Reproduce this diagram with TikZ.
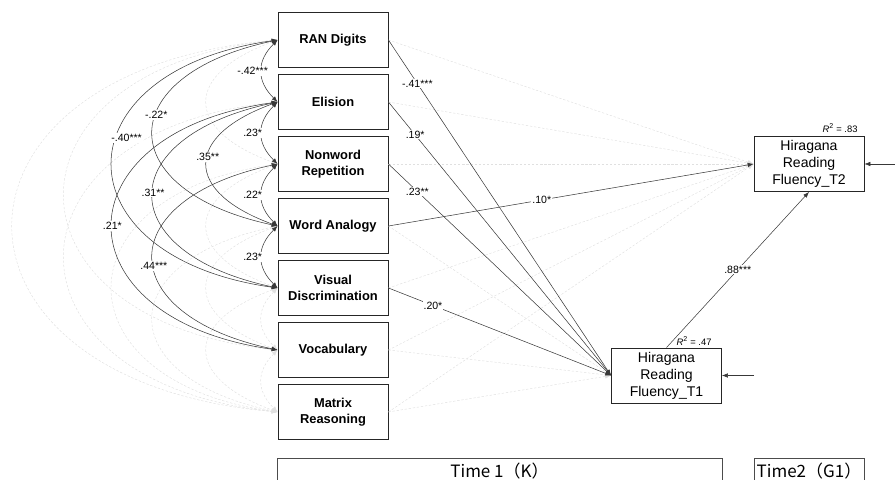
\documentclass[tikz,border=0pt]{standalone}
\usepackage{fontspec}
\setmainfont{Liberation Sans}
\newfontfamily\jpfont{Noto Sans CJK JP}
\usetikzlibrary{arrows.meta}
\begin{document}
\begin{tikzpicture}[x=0.03cm, y=0.03cm,
    >={Latex[length=5pt,width=3.8pt]},
    var/.style={draw=black!85, line width=0.75pt, minimum width=3.3cm,
      minimum height=1.65cm, align=center, inner sep=1pt,
      font=\fontsize{11}{14}\selectfont\bfseries},
    endo/.style={draw=black!85, line width=0.75pt, minimum width=3.3cm,
      minimum height=1.65cm, align=center, inner sep=1pt,
      font=\fontsize{12}{14.5}\selectfont},
    timebox/.style={draw=black!70, line width=0.6pt, minimum height=0.78cm,
      inner sep=1pt, font=\jpfont\fontsize{14.5}{16}\selectfont},
    coef/.style={fill=white, text=black, inner sep=0.8pt,
      font=\fontsize{9}{10}\selectfont},
    rsq/.style={inner sep=0pt, font=\fontsize{8}{9}\selectfont},
    sig/.style={color=black!78, line width=0.45pt},
    ns/.style={color=black!12, line width=0.4pt, dash pattern=on 2pt off 1.5pt},
    % covariance arcs, by how many boxes apart
    cova/.style={out=225, in=135, looseness=1.24},
    covb/.style={out=200, in=160, looseness=2.07},
    covc/.style={out=192, in=168, looseness=2.34},
    covd/.style={out=188, in=172, looseness=2.30},
    cove/.style={out=186, in=174, looseness=2.36},
    covf/.style={out=185, in=175, looseness=2.44}]
  \useasboundingbox (0,0) rectangle (895,480);
  \draw
    (333,440) node[var] (rd) {RAN Digits}
    (333,378) node[var] (el) {Elision}
    (333,316) node[var] (nw) {Nonword\\Repetition}
    (333,254) node[var] (wa) {Word Analogy}
    (333,192) node[var] (vd) {Visual\\Discrimination}
    (333,130) node[var] (vo) {Vocabulary}
    (333,68) node[var] (mr) {Matrix\\Reasoning}
    (666.5,104.5) node[endo] (t1) {Hiragana\\Reading\\Fluency\_T1}
    (809,316) node[endo] (t2) {Hiragana\\Reading\\Fluency\_T2};
  \draw
    (499.5,9) node[timebox, minimum width=13.35cm] (k) {Time 1（K）}
    (809,9) node[timebox, minimum width=3.3cm] (g1) {Time2（G1）};
  \node[rsq] (r1) at (694,139) {\textit{R}\textsuperscript{2} = .47};
  \node[rsq] (r2) at (840,352) {\textit{R}\textsuperscript{2} = .83};
  \coordinate (e1) at (754,104.5);
  \coordinate (e2) at (897,316);
  % non-significant paths
  \begin{scope}[ns, ->]
    \draw (rd.east) to (t2.west);
    \draw (el.east) to (t2.west);
    \draw (nw.east) to (t2.west);
    \draw (vd.east) to (t2.west);
    \draw (vo.east) to (t2.west);
    \draw (mr.east) to (t2.west);
    \draw (wa.east) to (t1.west);
    \draw (vo.east) to (t1.west);
    \draw (mr.east) to (t1.west);
  \end{scope}
  \begin{scope}[ns, <->]
    \draw (rd.west) to[covb] (nw.west);
    \draw (rd.west) to[cove] (vo.west);
    \draw (rd.west) to[covf] (mr.west);
    \draw (el.west) to[cove] (mr.west);
    \draw (nw.west) to[covb] (vd.west);
    \draw (nw.west) to[covd] (mr.west);
    \draw (wa.west) to[covb] (vo.west);
    \draw (wa.west) to[covc] (mr.west);
    \draw (vd.west) to[cova] (vo.west);
    \draw (vd.west) to[covb] (mr.west);
    \draw (vo.west) to[cova] (mr.west);
  \end{scope}
  % significant paths
  \begin{scope}[sig, <->]
    \draw (rd.west) to[cova] node[coef, xshift=-0.27cm] {-.42***} (el.west);
    \draw (el.west) to[cova] node[coef, xshift=-0.27cm] {.23*} (nw.west);
    \draw (nw.west) to[cova] node[coef, xshift=-0.27cm] {.22*} (wa.west);
    \draw (wa.west) to[cova] node[coef, xshift=-0.27cm] {.23*} (vd.west);
    \draw (rd.west) to[covc] node[coef, pos=0.42] {-.22*} (wa.west);
    \draw (rd.west) to[covd] node[coef, pos=0.42, xshift=0.3cm] {-.40***} (vd.west);
    \draw (el.west) to[covb] node[coef, pos=0.45] {.35**} (wa.west);
    \draw (el.west) to[covc] node[coef, pos=0.49] {.31**} (vd.west);
    \draw (el.west) to[covd] node[coef, pos=0.5] {.21*} (vo.west);
    \draw (nw.west) to[covc] node[coef, pos=0.54] {.44***} (vo.west);
  \end{scope}
  \begin{scope}[sig, ->]
    \draw (rd.east) to node[coef, pos=0.13] {-.41***} (t1.west);
    \draw (el.east) to node[coef, pos=0.12] {.19*} (t1.west);
    \draw (nw.east) to node[coef, pos=0.13] {.23**} (t1.west);
    \draw (vd.east) to node[coef, pos=0.2] {.20*} (t1.west);
    \draw (wa.east) to node[coef, pos=0.42] {.10*} (t2.west);
    \draw (t1.north) to node[coef, pos=0.5] {.88***} (t2.south);
    \draw (e1) to (t1.east);
    \draw (e2) to (t2.east);
  \end{scope}
\end{tikzpicture}
\end{document}
